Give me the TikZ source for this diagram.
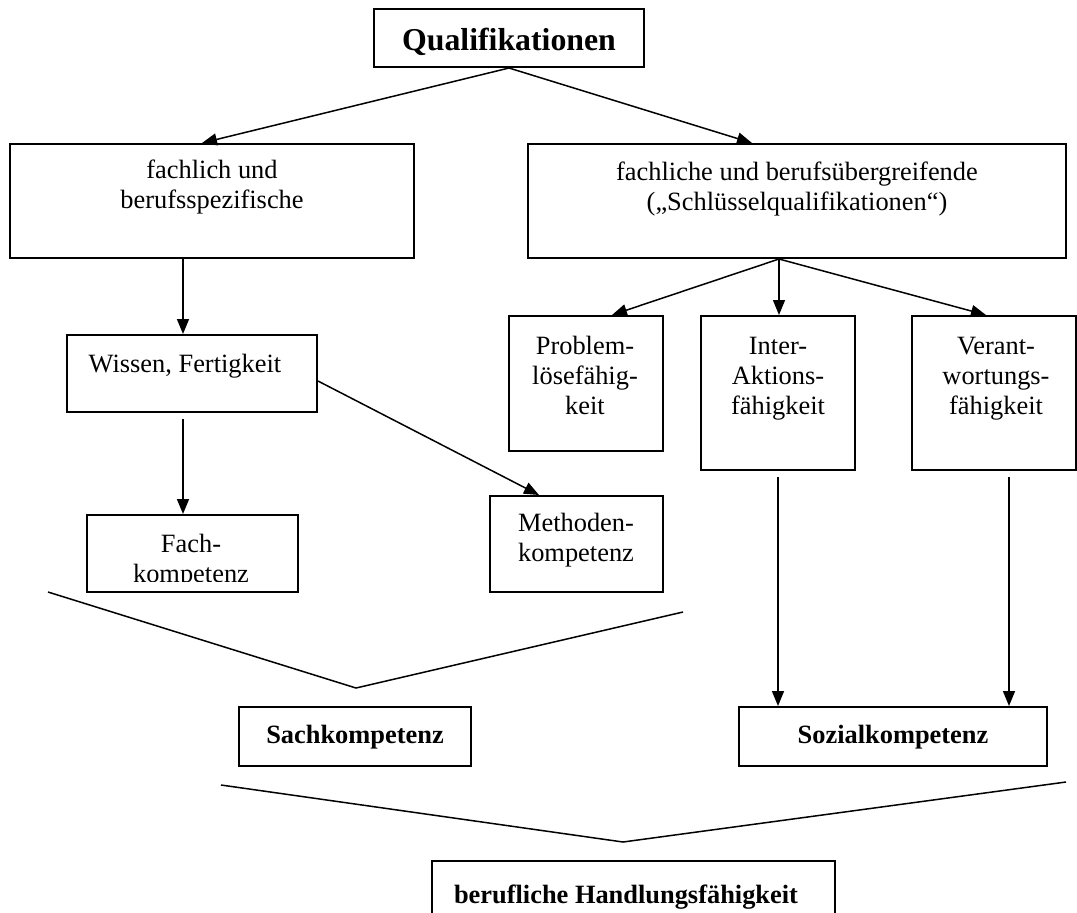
\documentclass[tikz,border=0pt]{standalone}
\usepackage{fontspec}
\setmainfont{Liberation Serif}
\usetikzlibrary{arrows.meta,fit,calc}
\newcommand{\lines}[1]{\begin{tabular}[t]{@{}c@{}}#1\end{tabular}}
\begin{document}
\begin{tikzpicture}[x=0.5pt,y=-0.5pt,
  box/.style={draw, line width=1pt, inner sep=0pt},
  txt/.style={anchor=base, inner sep=0pt, font=\fontsize{13.2pt}{15pt}\selectfont},
  btxt/.style={anchor=base, inner sep=0pt, font=\fontsize{13.2pt}{15pt}\selectfont\bfseries},
  qtxt/.style={anchor=base, inner sep=0pt, font=\fontsize{15.9pt}{18pt}\selectfont\bfseries},
  arr/.style={line width=0.75pt, -{Triangle[length=7.5pt,width=6pt]}},
  ln/.style={line width=0.75pt}]
\useasboundingbox (0,0) rectangle (1077,912);
\clip (0,0) rectangle (1077,912);
% boxes
\node[box, fit={(374,9) (644,67)}] (Q) {};
\node[box, fit={(10,144) (414,258)}] (L) {};
\node[box, fit={(528,144) (1066,258)}] (R) {};
\node[box, fit={(67,335) (317,412)}] (W) {};
\node[box, fit={(509,316) (663,451)}] (P) {};
\node[box, fit={(701,316) (855,470)}] (I) {};
\node[box, fit={(912,316) (1076,470)}] (V) {};
\node[box, fit={(87,515) (298,592)}] (F) {};
\node[box, fit={(490,496) (663,592)}] (M) {};
\node[box, fit={(239,707) (471,766)}] (S) {};
\node[box, fit={(739,707) (1047,766)}] (Z) {};
\node[box, fit={(432,861) (835,940)}] (B) {};
% texts
\node[qtxt] (Qt) at (509,50) {Qualifikationen};
\node[txt] (Lt) at (212,178) {\lines{fachlich und\\berufsspezifische}};
\node[txt] (Rt) at (797,180) {\lines{fachliche und berufsübergreifende\\(„Schlüsselqualifikationen“)}};
\node[txt] (Wt) at (185,372) {Wissen, Fertigkeit};
\node[txt] (Pt) at (585,354) {\lines{Problem-\\lösefähig-\\keit}};
\node[txt] (It) at (778,354) {\lines{Inter-\\Aktions-\\fähigkeit}};
\node[txt] (Vt) at (996,354) {\lines{Verant-\\wortungs-\\fähigkeit}};
\begin{scope}
\clip (87,515) rectangle (298,581);
\node[txt] (Ft) at (191,552) {\lines{Fach-\\kompetenz}};
\end{scope}
\node[txt] (Mt) at (576,531) {\lines{Methoden-\\kompetenz}};
\node[btxt] (St) at (355,743) {Sachkompetenz};
\node[btxt] (Zt) at (893,743) {Sozialkompetenz};
\node[btxt] (Bt) at (626,903) {berufliche Handlungsfähigkeit};
% connectors
\draw[arr] (Q.south) -- (L.north -| 202,0);
\draw[arr] (Q.south) -- (R.north -| 752,0);
\draw[arr] (L.south -| 183,0) -- (W.north -| 183,0);
\coordinate (wb) at (183,419);
\draw[arr] (wb) -- (F.north -| wb);
\draw[arr] (W.east |- 0,381) -- (M.north -| 539,0);
\draw[arr] (R.south -| 779,0) -- (P.north -| 612,0);
\draw[arr] (R.south -| 779,0) -- (I.north -| 779,0);
\draw[arr] (R.south -| 779,0) -- (V.north -| 986,0);
\coordinate (ib) at (778,477);
\draw[arr] (ib) -- (Z.north -| ib);
\coordinate (vb) at (1009,477);
\draw[arr] (vb) -- (Z.north -| vb);
% merging lines
\coordinate (a1) at (48,592);
\coordinate (a2) at (356,688);
\coordinate (a3) at (683,612);
\draw[ln] (a1) -- (a2) -- (a3);
\coordinate (b1) at (221,785);
\coordinate (b2) at (623,842);
\coordinate (b3) at (1066,782);
\draw[ln] (b1) -- (b2) -- (b3);
\end{tikzpicture}
\end{document}
